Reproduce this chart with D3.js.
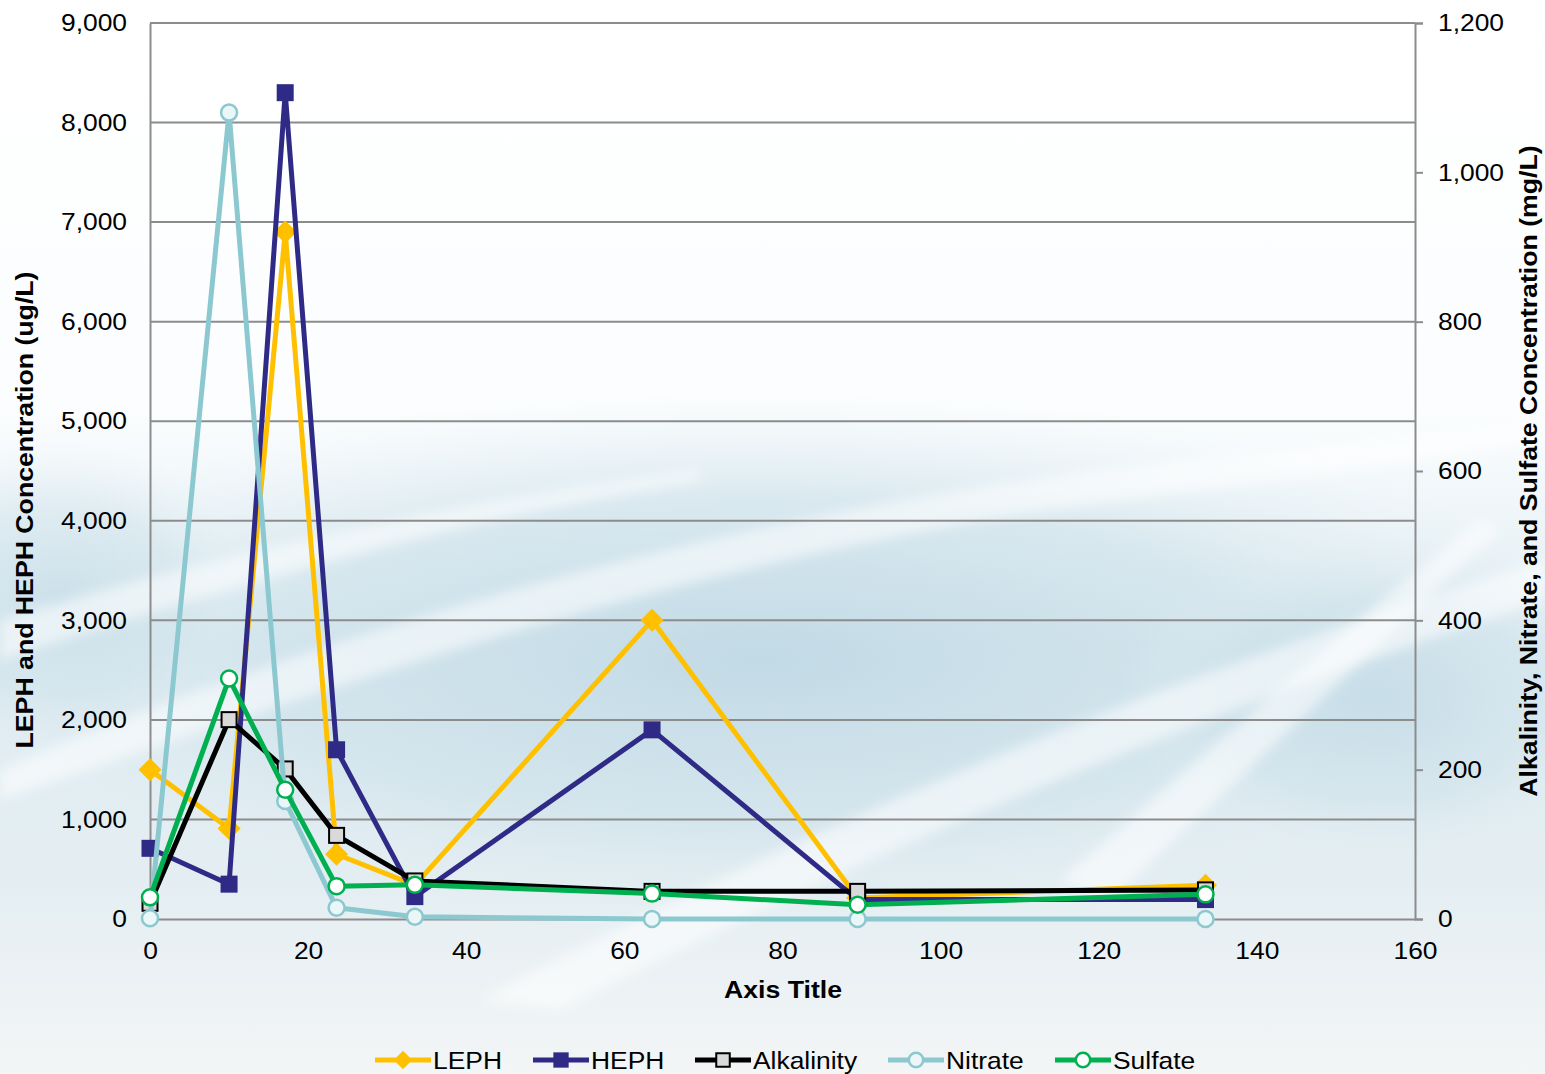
<!DOCTYPE html>
<html>
<head>
<meta charset="utf-8">
<script src="https://cdn.jsdelivr.net/npm/d3@7"></script>
<style>
  html, body { margin: 0; padding: 0; background: #ffffff; }
  svg { display: block; }
  text { font-family: "Liberation Sans", Arial, sans-serif; fill: #000; }
</style>
</head>
<body>
<svg id="chart" width="1545" height="1074"></svg>
<script>
// Sampling days (x values shared by all series)
const days = [0, 10, 17.1, 23.6, 33.5, 63.5, 89.5, 133.5];

// Petroleum hydrocarbons, ug/L (left axis)
const leph = [1500, 910, 6900, 650, 340, 3000, 210, 340];
const heph = [710, 350, 8300, 1700, 225, 1900, 195, 195];

// Geochemical parameters, mg/L (right axis)
const alkalinity = [21, 267, 201, 112, 51, 37, 37, 39];
const nitrate = [1, 1080, 158, 15, 3, 0, 0, 0];
const sulfate = [29, 322, 173, 44, 46, 34, 19, 33];

// Tick values
const xTicks = [0, 20, 40, 60, 80, 100, 120, 140, 160];
const leftTicks = [0, 1000, 2000, 3000, 4000, 5000, 6000, 7000, 8000, 9000];
const rightTicks = [0, 200, 400, 600, 800, 1000, 1200];

const svg = d3.select("#chart");
const W = 1545, H = 1074;
const plot = { left: 150, right: 1415, top: 23, bottom: 919 };
const FONT = "Liberation Sans, Arial, sans-serif";
const WIDE = 1.1;       // horizontal stretch of regular labels
const WIDE_BOLD = 1.16; // horizontal stretch of bold titles

// ---------- background wash ----------
const defs = svg.append("defs");
const bg = defs.append("linearGradient").attr("id", "bgGrad")
  .attr("x1", 0).attr("y1", 0).attr("x2", 0).attr("y2", 1);
bg.append("stop").attr("offset", "0%").attr("stop-color", "#ffffff");
bg.append("stop").attr("offset", "38%").attr("stop-color", "#fbfdfe");
bg.append("stop").attr("offset", "60%").attr("stop-color", "#dfecf2");
bg.append("stop").attr("offset", "82%").attr("stop-color", "#e4eef2");
bg.append("stop").attr("offset", "100%").attr("stop-color", "#f3f5f6");
svg.append("rect").attr("width", W).attr("height", H).attr("fill", "url(#bgGrad)");

const blob = defs.append("radialGradient").attr("id", "blob")
  .attr("cx", "50%").attr("cy", "50%").attr("r", "50%");
blob.append("stop").attr("offset", "0%").attr("stop-color", "#c0d9e5").attr("stop-opacity", 0.95);
blob.append("stop").attr("offset", "60%").attr("stop-color", "#cbe0e9").attr("stop-opacity", 0.6);
blob.append("stop").attr("offset", "100%").attr("stop-color", "#e4eff3").attr("stop-opacity", 0);
svg.append("ellipse").attr("cx", 760).attr("cy", 660).attr("rx", 840).attr("ry", 270)
  .attr("fill", "url(#blob)");
svg.append("ellipse").attr("cx", 1380).attr("cy", 700).attr("rx", 260).attr("ry", 170)
  .attr("fill", "url(#blob)").attr("opacity", 0.8);
svg.append("ellipse").attr("cx", 60).attr("cy", 600).attr("rx", 200).attr("ry", 160)
  .attr("fill", "url(#blob)").attr("opacity", 0.7);

const blur = defs.append("filter").attr("id", "soft").attr("x", "-20%").attr("y", "-20%")
  .attr("width", "140%").attr("height", "140%");
blur.append("feGaussianBlur").attr("stdDeviation", 6);

// soft white streaks sweeping up to the right
const streaks = [
  "M0,770 C300,640 700,520 1100,470 C1250,450 1400,440 1545,420 L1545,440 C1380,470 1200,490 1050,510 C700,560 350,680 0,800 Z",
  "M480,1000 C800,830 1150,680 1545,560 L1545,600 C1180,720 850,860 560,1010 Z",
  "M0,620 C200,560 450,500 700,470 L700,480 C450,520 220,590 0,660 Z",
  "M1060,880 C1200,760 1330,640 1480,520 L1500,530 C1360,660 1240,780 1110,900 Z"
];
svg.append("g").attr("filter", "url(#soft)").selectAll("path").data(streaks).join("path")
  .attr("d", d => d).attr("fill", "#ffffff").attr("opacity", 0.55);

// ---------- scales ----------
const x = d3.scaleLinear().domain([0, 160]).range([plot.left, plot.right]);
const yL = d3.scaleLinear().domain([0, 9000]).range([plot.bottom, plot.top]);
const yR = d3.scaleLinear().domain([0, 1200]).range([plot.bottom, plot.top]);
const fmt = d3.format(",");

// widen axis tick labels about their anchor point
function widen(texts, k) {
  texts.each(function () {
    const t = d3.select(this);
    const x0 = +t.attr("x") || 0;
    t.attr("x", x0 / k).attr("transform", `scale(${k},1)`);
  });
}

// gridlines
svg.append("g").selectAll("line").data(leftTicks.filter(v => v > 0)).join("line")
  .attr("x1", plot.left).attr("x2", plot.right)
  .attr("y1", d => yL(d)).attr("y2", d => yL(d))
  .attr("stroke", "#8c8c8c").attr("stroke-width", 2);

// left axis
const axL = svg.append("g").attr("transform", `translate(${plot.left},0)`)
  .call(d3.axisLeft(yL).tickValues(leftTicks).tickFormat(fmt).tickSize(0).tickPadding(23));
axL.select(".domain").attr("stroke", "#8c8c8c").attr("stroke-width", 2);
axL.selectAll("text").attr("font-size", 24).attr("font-family", FONT).attr("fill", "#000").call(widen, WIDE);

// right axis
const axR = svg.append("g").attr("transform", `translate(${plot.right},0)`)
  .call(d3.axisRight(yR).tickValues(rightTicks).tickFormat(fmt).tickSize(8).tickPadding(15).tickSizeOuter(8));
axR.select(".domain").attr("stroke", "#8c8c8c").attr("stroke-width", 2);
axR.selectAll("line").attr("stroke", "#8c8c8c").attr("stroke-width", 2);
axR.selectAll("text").attr("font-size", 24).attr("font-family", FONT).attr("fill", "#000").call(widen, WIDE);

// bottom axis
const axB = svg.append("g").attr("transform", `translate(0,${plot.bottom})`)
  .call(d3.axisBottom(x).tickValues(xTicks).tickSize(0).tickSizeOuter(0).tickPadding(23));
axB.select(".domain").attr("stroke", "#8c8c8c").attr("stroke-width", 2);
axB.selectAll("text").attr("font-size", 24).attr("font-family", FONT).attr("fill", "#000").call(widen, WIDE);

// axis titles
svg.append("text").attr("transform", `translate(783,998) scale(${WIDE_BOLD},1)`).attr("text-anchor", "middle")
  .attr("font-size", 23).attr("font-weight", "bold").text("Axis Title");
svg.append("text").attr("transform", `translate(33,510) rotate(-90) scale(${WIDE_BOLD},1)`).attr("text-anchor", "middle")
  .attr("font-size", 23).attr("font-weight", "bold").text("LEPH and HEPH Concentration (ug/L)");
svg.append("text").attr("transform", `translate(1537,471) rotate(-90) scale(${WIDE_BOLD},1)`).attr("text-anchor", "middle")
  .attr("font-size", 23).attr("font-weight", "bold")
  .text("Alkalinity, Nitrate, and Sulfate Concentration (mg/L)");

// ---------- series ----------
const series = [
  { name: "LEPH", values: leph, y: yL, color: "#ffc000", marker: "diamond", fill: "#ffc000", stroke: "none" },
  { name: "HEPH", values: heph, y: yL, color: "#2e2a86", marker: "square", fill: "#2e2a86", stroke: "none" },
  { name: "Alkalinity", values: alkalinity, y: yR, color: "#000000", marker: "squareOpen", fill: "#d9d9d9", stroke: "#000000" },
  { name: "Nitrate", values: nitrate, y: yR, color: "#8cc8cf", marker: "circle", fill: "#eaf6f7", stroke: "#8cc8cf" },
  { name: "Sulfate", values: sulfate, y: yR, color: "#00b050", marker: "circle", fill: "#ffffff", stroke: "#00b050" }
];

function drawMarker(g, s, cx, cy, scale = 1) {
  if (s.marker === "diamond") {
    const r = 11.5 * scale;
    g.append("path").attr("d", `M${cx},${cy - r}L${cx + r},${cy}L${cx},${cy + r}L${cx - r},${cy}Z`)
      .attr("fill", s.fill);
  } else if (s.marker === "square") {
    const h = 8.5 * scale;
    g.append("rect").attr("x", cx - h).attr("y", cy - h).attr("width", 2 * h).attr("height", 2 * h)
      .attr("fill", s.fill);
  } else if (s.marker === "squareOpen") {
    const h = 7.5 * scale;
    g.append("rect").attr("x", cx - h).attr("y", cy - h).attr("width", 2 * h).attr("height", 2 * h)
      .attr("fill", s.fill).attr("stroke", s.stroke).attr("stroke-width", 2);
  } else {
    g.append("circle").attr("cx", cx).attr("cy", cy).attr("r", 8 * scale)
      .attr("fill", s.fill).attr("stroke", s.stroke).attr("stroke-width", 2.5);
  }
}

const line = yScale => d3.line().x(d => x(d[0])).y(d => yScale(d[1]));
const seriesG = svg.append("g");
series.forEach(s => {
  const pts = days.map((d, i) => [d, s.values[i]]);
  const g = seriesG.append("g").attr("class", "series-" + s.name);
  g.append("path").datum(pts).attr("d", line(s.y))
    .attr("fill", "none").attr("stroke", s.color).attr("stroke-width", 5)
    .attr("stroke-linejoin", "round");
  pts.forEach(p => drawMarker(g, s, x(p[0]), s.y(p[1])));
});

// ---------- legend ----------
const legendX = [375, 533, 695, 888, 1055];
const legendY = 1060;
const lg = svg.append("g");
series.forEach((s, i) => {
  const x0 = legendX[i];
  lg.append("line").attr("x1", x0).attr("x2", x0 + 56).attr("y1", legendY).attr("y2", legendY)
    .attr("stroke", s.color).attr("stroke-width", 5);
  drawMarker(lg, s, x0 + 28, legendY, s.marker === "diamond" ? 0.8 : 0.9);
  lg.append("text").attr("transform", `translate(${x0 + 58},${legendY + 9}) scale(${WIDE},1)`)
    .attr("font-size", 24).text(s.name);
});
</script>
</body>
</html>
